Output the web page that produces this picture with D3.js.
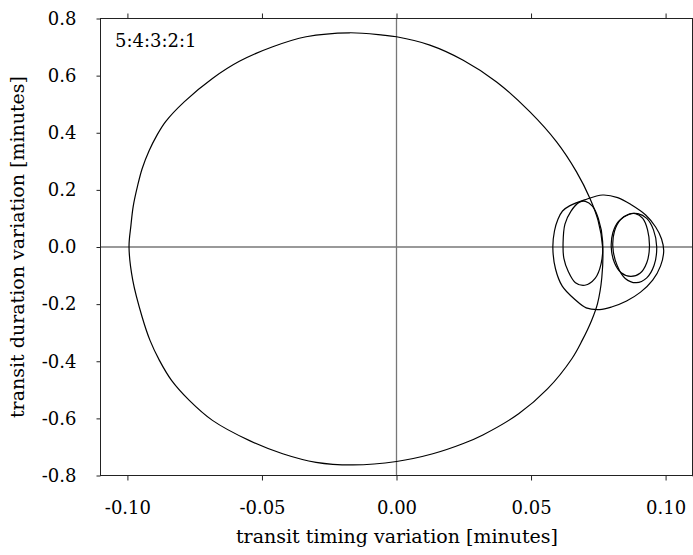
<!DOCTYPE html>
<html>
<head>
<meta charset="utf-8">
<script src="https://cdn.jsdelivr.net/npm/d3@7"></script>
<style>
  html, body { margin: 0; padding: 0; background: #fff; }
  svg { display: block; }
  text { font-family: "DejaVu Serif", "Liberation Serif", serif; fill: #000; }
</style>
</head>
<body>
<svg id="chart" width="693" height="555"></svg>
<script>
// ---- data ----
const xTickValues = [-0.10, -0.05, 0.00, 0.05, 0.10];
const xTickLabels = ["-0.10", "-0.05", "0.00", "0.05", "0.10"];
const yTickValues = [-0.8, -0.6, -0.4, -0.2, 0.0, 0.2, 0.4, 0.6, 0.8];
const yTickLabels = ["-0.8", "-0.6", "-0.4", "-0.2", "0.0", "0.2", "0.4", "0.6", "0.8"];
const xDomain = [-0.11, 0.11];
const yDomain = [-0.8, 0.8];
const annotation = "5:4:3:2:1";
const xLabel = "transit timing variation [minutes]";
const yLabel = "transit duration variation [minutes]";

// large loop (TTV, TDV)
const bigLoop = [
  [-0.0994, 0.000], [-0.0987, 0.075], [-0.0978, 0.145], [-0.0962, 0.215],
  [-0.0945, 0.275], [-0.0919, 0.338], [-0.0891, 0.390], [-0.0858, 0.439],
  [-0.0788, 0.509], [-0.0684, 0.590], [-0.0584, 0.650], [-0.0460, 0.701],
  [-0.0336, 0.736], [-0.0175, 0.750], [-0.0051, 0.742], [0.0000, 0.736],
  [0.0124, 0.707], [0.0248, 0.654], [0.0372, 0.578], [0.0496, 0.473],
  [0.0595, 0.368], [0.0669, 0.263], [0.0719, 0.170], [0.0749, 0.093],
  [0.0766, 0.000], [0.0763, -0.107], [0.0747, -0.198], [0.0725, -0.257],
  [0.0690, -0.327], [0.0651, -0.392], [0.0561, -0.497], [0.0454, -0.584],
  [0.0321, -0.658], [0.0246, -0.689], [0.0135, -0.724], [0.0000, -0.751],
  [-0.0162, -0.763], [-0.0299, -0.754], [-0.0423, -0.724], [-0.0546, -0.678],
  [-0.0684, -0.607], [-0.0770, -0.537], [-0.0836, -0.467], [-0.0881, -0.397],
  [-0.0916, -0.327], [-0.0945, -0.246], [-0.0980, -0.117]
];
// encompassing small loop
const loopC = [
  [0.0581, -0.002], [0.0587, 0.056], [0.0600, 0.097], [0.0617, 0.126],
  [0.0643, 0.144], [0.0699, 0.165], [0.0766, 0.182], [0.0822, 0.173],
  [0.0874, 0.147], [0.0926, 0.112], [0.0963, 0.070], [0.0985, 0.028],
  [0.0993, -0.014], [0.0981, -0.067], [0.0952, -0.116], [0.0907, -0.158],
  [0.0855, -0.189], [0.0799, -0.210], [0.0755, -0.219], [0.0705, -0.213],
  [0.0662, -0.183], [0.0616, -0.137], [0.0591, -0.077]
];
// inner left loop
const loopB = [
  [0.0619, 0.013], [0.0626, 0.080], [0.0648, 0.125], [0.0680, 0.157],
  [0.0702, 0.160], [0.0728, 0.143], [0.0750, 0.100], [0.0766, 0.020],
  [0.0760, -0.060], [0.0738, -0.110], [0.0700, -0.134], [0.0665, -0.125],
  [0.0638, -0.085], [0.0622, -0.040]
];
// inner right loops
const loopD = [
  [0.0798, 0.000], [0.0804, 0.050], [0.0825, 0.090], [0.0860, 0.113],
  [0.0888, 0.117], [0.0915, 0.100], [0.0933, 0.060], [0.0940, 0.000],
  [0.0930, -0.055], [0.0905, -0.092], [0.0870, -0.103], [0.0835, -0.090],
  [0.0810, -0.055]
];
const loopE = [
  [0.0804, 0.000], [0.0810, 0.055], [0.0832, 0.095], [0.0865, 0.115],
  [0.0897, 0.117], [0.0930, 0.100], [0.0955, 0.060], [0.0967, 0.000],
  [0.0957, -0.065], [0.0930, -0.108], [0.0891, -0.125], [0.0850, -0.110],
  [0.0820, -0.065]
];
const loops = [bigLoop, loopC, loopB, loopD, loopE];

// ---- layout ----
const svg = d3.select("#chart");
const mLeft = 100.5, mRight = 692.5, mTop = 18.5, mBottom = 475.5;
const x = d3.scaleLinear().domain(xDomain).range([mLeft, mRight]);
const y = d3.scaleLinear().domain(yDomain).range([mBottom, mTop]);
const axisColor = "#222";
const fs = 18;
const fsLabel = 19;

// zero lines
svg.append("line")
  .attr("x1", x(0)).attr("x2", x(0)).attr("y1", y(yDomain[1])).attr("y2", y(yDomain[0]))
  .attr("stroke", "#777").attr("stroke-width", 1.3);
svg.append("line")
  .attr("x1", x(xDomain[0])).attr("x2", x(xDomain[1])).attr("y1", y(0)).attr("y2", y(0))
  .attr("stroke", "#777").attr("stroke-width", 1.3);

// curves
const line = d3.line()
  .x(d => x(d[0])).y(d => y(d[1]))
  .curve(d3.curveCatmullRomClosed.alpha(0.5));
svg.append("g").selectAll("path").data(loops).join("path")
  .attr("d", line)
  .attr("fill", "none")
  .attr("stroke", "#000")
  .attr("stroke-width", 1.2);

// axes
function styleAxis(g) {
  g.select(".domain").remove();
  g.selectAll(".tick line").attr("stroke", axisColor).attr("stroke-width", 1);
  g.selectAll(".tick text").attr("font-size", fs).attr("font-family", "DejaVu Serif, serif").attr("fill", "#000");
}
svg.append("g").attr("transform", `translate(0,${mBottom})`)
  .call(d3.axisBottom(x).tickValues(xTickValues).tickSize(5).tickPadding(21)
    .tickFormat((d, i) => xTickLabels[i]))
  .call(styleAxis);
svg.append("g").attr("transform", `translate(0,${mTop})`)
  .call(d3.axisTop(x).tickValues(xTickValues).tickSize(5).tickFormat(""))
  .call(styleAxis);
svg.append("g").attr("transform", `translate(${mLeft},0)`)
  .call(d3.axisLeft(y).tickValues(yTickValues).tickSize(4).tickPadding(20)
    .tickFormat((d, i) => yTickLabels[i]))
  .call(styleAxis);
svg.append("g").attr("transform", `translate(${mRight},0)`)
  .call(d3.axisRight(y).tickValues(yTickValues).tickSize(4).tickFormat(""))
  .call(styleAxis);

// frame
svg.append("rect")
  .attr("x", mLeft).attr("y", mTop)
  .attr("width", mRight - mLeft).attr("height", mBottom - mTop)
  .attr("fill", "none").attr("stroke", axisColor).attr("stroke-width", 1);

// annotation
svg.append("text")
  .attr("x", 115).attr("y", 47)
  .attr("font-size", fs)
  .text(annotation);

// axis labels
svg.append("text")
  .attr("x", (mLeft + mRight) / 2 + 0.5).attr("y", 543)
  .attr("text-anchor", "middle")
  .attr("font-size", fsLabel)
  .text(xLabel);
svg.append("text")
  .attr("transform", `translate(24,${(mTop + mBottom) / 2}) rotate(-90)`)
  .attr("text-anchor", "middle")
  .attr("font-size", fsLabel)
  .text(yLabel);
</script>
</body>
</html>
